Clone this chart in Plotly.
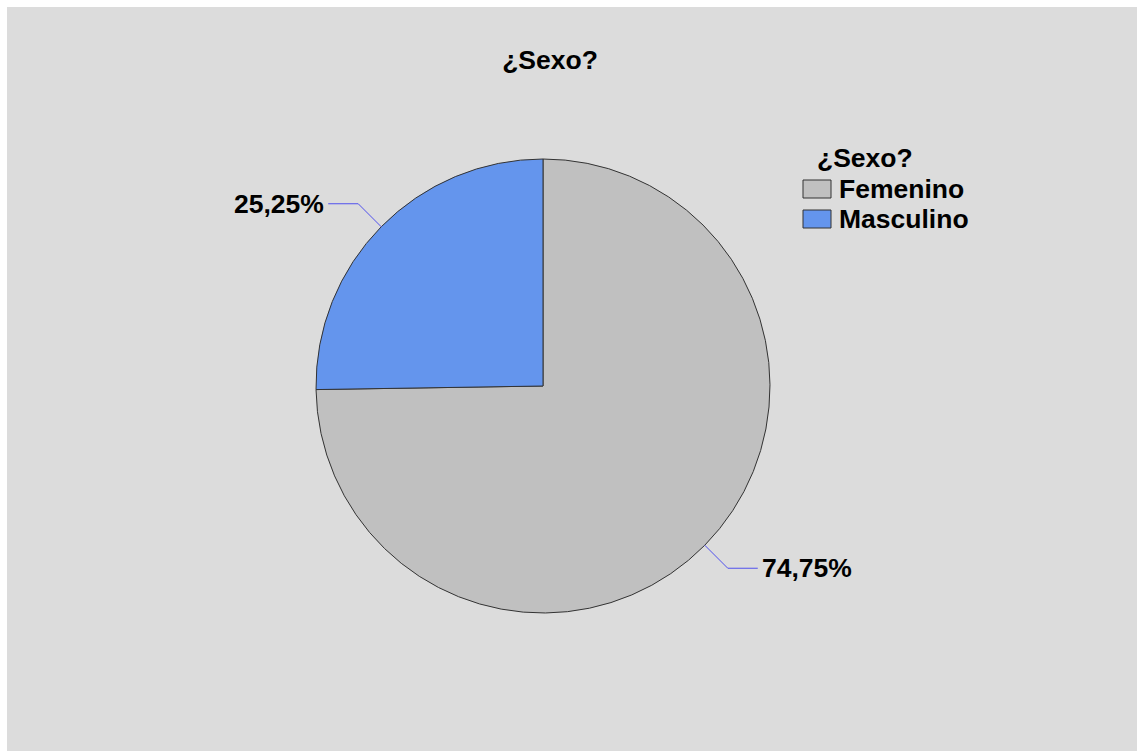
import math
import plotly.graph_objects as go

# Data
categories = ["Femenino", "Masculino"]
percentages = [74.75, 25.25]
slice_colors = ["#c0c0c0", "#6495ed"]
chart_title = "¿Sexo?"

W, H = 1137, 751
CX, CY, R = 543, 386, 227  # pie centre / radius in pixels (from top-left)
FONT = "Liberation Sans, Arial, sans-serif"
FS = 26.5


def px(x):
    return x / W


def py(y):
    return 1 - y / H


fig = go.Figure()
fig.add_trace(go.Pie(
    labels=categories,
    values=percentages,
    marker=dict(colors=slice_colors, line=dict(color="#333333", width=1)),
    sort=False,
    direction="clockwise",
    rotation=0,
    textinfo="none",
    hoverinfo="label+percent",
    showlegend=False,
    domain=dict(x=[px(CX - R), px(CX + R)], y=[py(CY + R), py(CY - R)]),
))

shapes = [
    # grey panel with thin white border at top/left
    dict(type="rect", xref="paper", yref="paper", x0=px(7), x1=1, y0=0, y1=py(7),
         fillcolor="#dcdcdc", line=dict(width=0), layer="below"),
]
annotations = []

# Outside labels with elbow leader lines, placed from each slice's mid angle
total = sum(percentages)
start = 0.0
for cat, val in zip(categories, percentages):
    frac = val / total
    mid = (start + frac / 2) * 2 * math.pi
    start += frac
    sx, sy = math.sin(mid), -math.cos(mid)
    ex, ey = CX + R * sx, CY + R * sy
    dx = 1 if sx >= 0 else -1
    dy = 1 if sy >= 0 else -1
    bx, by = ex + 23 * dx, ey + 23 * dy
    hx = bx + 30 * dx
    shapes.append(dict(
        type="path", xref="paper", yref="paper",
        path=f"M{px(ex)},{py(ey)} L{px(bx)},{py(by)} L{px(hx)},{py(by)}",
        line=dict(color="#5050ee", width=1),
    ))
    annotations.append(dict(
        xref="paper", yref="paper", x=px(hx + 2 * dx), y=py(by),
        xanchor="left" if dx > 0 else "right", yanchor="middle",
        text="<b>" + f"{val:.2f}".replace(".", ",") + "%</b>",
        showarrow=False, font=dict(family=FONT, size=FS, color="#000000"),
    ))

# Legend drawn as swatches + text
annotations.append(dict(
    xref="paper", yref="paper", x=px(815), y=py(158), xanchor="left", yanchor="middle",
    text="<b>" + chart_title + "</b>", showarrow=False,
    font=dict(family=FONT, size=FS, color="#000000"),
))
for i, (cat, col) in enumerate(zip(categories, slice_colors)):
    yc = 189 + i * 30
    shapes.append(dict(
        type="rect", xref="paper", yref="paper",
        x0=px(803), x1=px(831), y0=py(yc + 9), y1=py(yc - 9),
        fillcolor=col, line=dict(color="#333333", width=1),
    ))
    annotations.append(dict(
        xref="paper", yref="paper", x=px(837), y=py(yc), xanchor="left", yanchor="middle",
        text="<b>" + cat + "</b>", showarrow=False,
        font=dict(family=FONT, size=FS, color="#000000"),
    ))

fig.update_layout(
    width=W, height=H,
    margin=dict(l=0, r=0, t=0, b=0),
    paper_bgcolor="#ffffff",
    plot_bgcolor="#dcdcdc",
    title=dict(text="<b>" + chart_title + "</b>", x=px(550), y=py(60),
               xanchor="center", yanchor="middle",
               font=dict(family=FONT, size=FS, color="#000000")),
    shapes=shapes,
    annotations=annotations,
)

fig.write_html("out.html")
